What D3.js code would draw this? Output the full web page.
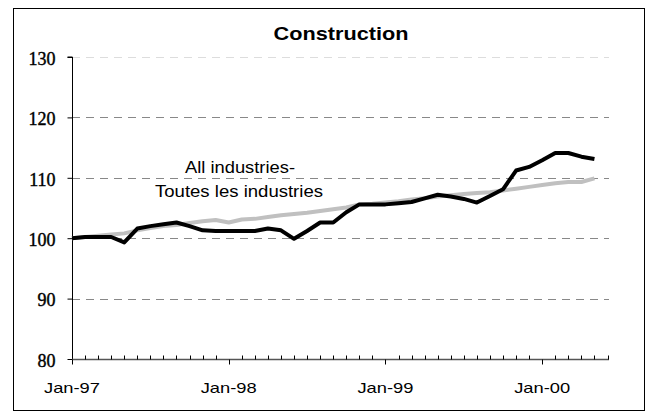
<!DOCTYPE html>
<html>
<head>
<meta charset="utf-8">
<script src="https://cdn.jsdelivr.net/npm/d3@7"></script>
<style>
  body { margin: 0; background: #fff; }
  svg { display: block; }
</style>
</head>
<body>
<div id="chart-area"></div>
<script>
const width = 652;
const height = 412;

// monthly index, Jan-97 = 100 (Jan-97 .. May-00)
const construction = [
  100.0, 100.2, 100.2, 100.2, 99.3, 101.6, 102.0, 102.3, 102.6, 102.0, 101.3, 101.2,
  101.2, 101.2, 101.2, 101.6, 101.3, 99.9, 101.2, 102.6, 102.6, 104.3, 105.6, 105.6,
  105.6, 105.8, 106.0, 106.6, 107.2, 106.9, 106.5, 105.9, 107.0, 108.1, 111.2, 111.8,
  112.9, 114.1, 114.1, 113.5, 113.1
];
const allIndustries = [
  100.0, 100.2, 100.4, 100.6, 100.8, 101.3, 101.7, 102.0, 102.2, 102.5, 102.8, 103.0,
  102.6, 103.1, 103.2, 103.5, 103.8, 104.0, 104.2, 104.5, 104.8, 105.1, 105.6, 105.7,
  105.9, 106.1, 106.4, 106.6, 106.9, 107.1, 107.3, 107.5, 107.6, 107.9, 108.2, 108.5,
  108.8, 109.1, 109.3, 109.3, 109.9
];
const yTicks = [80, 90, 100, 110, 120, 130];
const yearLabels = ['Jan-97', 'Jan-98', 'Jan-99', 'Jan-00'];
const nMonths = 42; // axis categories incl. the empty last one

const svg = d3
  .select('#chart-area')
  .append('svg')
  .attr('width', width)
  .attr('height', height);

// outer frame
svg
  .append('rect')
  .attr('x', 13.5)
  .attr('y', 8.5)
  .attr('width', 631)
  .attr('height', 402)
  .attr('fill', 'none')
  .attr('stroke', '#000');

const x = d3.scaleLinear().domain([0, nMonths - 1]).range([72, 607.5]);
const y = d3.scaleLinear().domain([80, 130]).range([359, 57]);

// gridlines
svg
  .append('g')
  .selectAll('line')
  .data(yTicks.filter((d) => d > 80))
  .join('line')
  .attr('x1', 72)
  .attr('x2', 609)
  .attr('y1', (d) => Math.round(y(d)) + 0.5)
  .attr('y2', (d) => Math.round(y(d)) + 0.5)
  .attr('stroke', (d) => (d === 130 ? '#ddd' : '#888'))
  .attr('stroke-dasharray', '8,6');

// y axis
const yAxis = svg
  .append('g')
  .attr('transform', 'translate(72.5,0)')
  .call(d3.axisLeft(y).tickValues(yTicks).tickSize(5).tickPadding(12));
yAxis.select('.domain').attr('stroke', '#000').attr('d', `M-5,${y(130)}H0V${y(80)}`);
yAxis.selectAll('.tick line').attr('stroke', '#000');
yAxis
  .selectAll('.tick text')
  .style('font-family', "'Liberation Serif', 'Times New Roman', serif")
  .style('font-size', '18px')
  .attr('fill', '#000')
  .attr('stroke', '#000')
  .attr('stroke-width', 0.4)
  .attr('dy', '0.4em');

// x axis: minor ticks inside, major (January) ticks outside
const xAxis = svg.append('g').attr('transform', `translate(0,${Math.round(y(80)) + 0.5})`);
xAxis
  .append('line')
  .attr('x1', 72)
  .attr('x2', 609)
  .attr('stroke', '#555')
  .attr('stroke-width', 1.5);
xAxis
  .selectAll('line.tick')
  .data(d3.range(nMonths))
  .join('line')
  .attr('class', 'tick')
  .attr('x1', (d) => Math.round(x(d)) + 0.5)
  .attr('x2', (d) => Math.round(x(d)) + 0.5)
  .attr('y1', 0)
  .attr('y2', (d) => (d % 12 === 0 ? 5 : -4))
  .attr('stroke', '#000');
xAxis
  .selectAll('text')
  .data(yearLabels)
  .join('text')
  .attr('x', (d, i) => x(i * 12))
  .attr('y', 33)
  .attr('text-anchor', 'middle')
  .attr('font-family', 'Arial, "Liberation Sans", sans-serif')
  .attr('font-size', 15)
  .attr('textLength', 56)
  .attr('lengthAdjust', 'spacingAndGlyphs')
  .text((d) => d);

const line = d3
  .line()
  .x((d, i) => x(i))
  .y((d) => y(d));

svg
  .append('path')
  .datum(allIndustries)
  .attr('d', line)
  .attr('fill', 'none')
  .attr('stroke', '#c0c0c0')
  .attr('stroke-width', 4)
  .attr('stroke-linejoin', 'round');

svg
  .append('path')
  .datum(construction)
  .attr('d', line)
  .attr('fill', 'none')
  .attr('stroke', '#000')
  .attr('stroke-width', 4)
  .attr('stroke-linejoin', 'round');

// title
svg
  .append('text')
  .attr('x', 341)
  .attr('y', 40)
  .attr('text-anchor', 'middle')
  .attr('font-family', 'Arial, "Liberation Sans", sans-serif')
  .attr('font-weight', 'bold')
  .attr('font-size', 19)
  .attr('textLength', 135)
  .attr('lengthAdjust', 'spacingAndGlyphs')
  .text('Construction');

// series annotation
const note = svg
  .append('g')
  .attr('font-family', 'Arial, "Liberation Sans", sans-serif')
  .attr('font-size', 17)
  .attr('text-anchor', 'middle');
note
  .append('text')
  .attr('x', 240)
  .attr('y', 173)
  .attr('textLength', 110)
  .attr('lengthAdjust', 'spacingAndGlyphs')
  .text('All industries-');
note
  .append('text')
  .attr('x', 239)
  .attr('y', 197)
  .attr('textLength', 168)
  .attr('lengthAdjust', 'spacingAndGlyphs')
  .text('Toutes les industries');
</script>
</body>
</html>
